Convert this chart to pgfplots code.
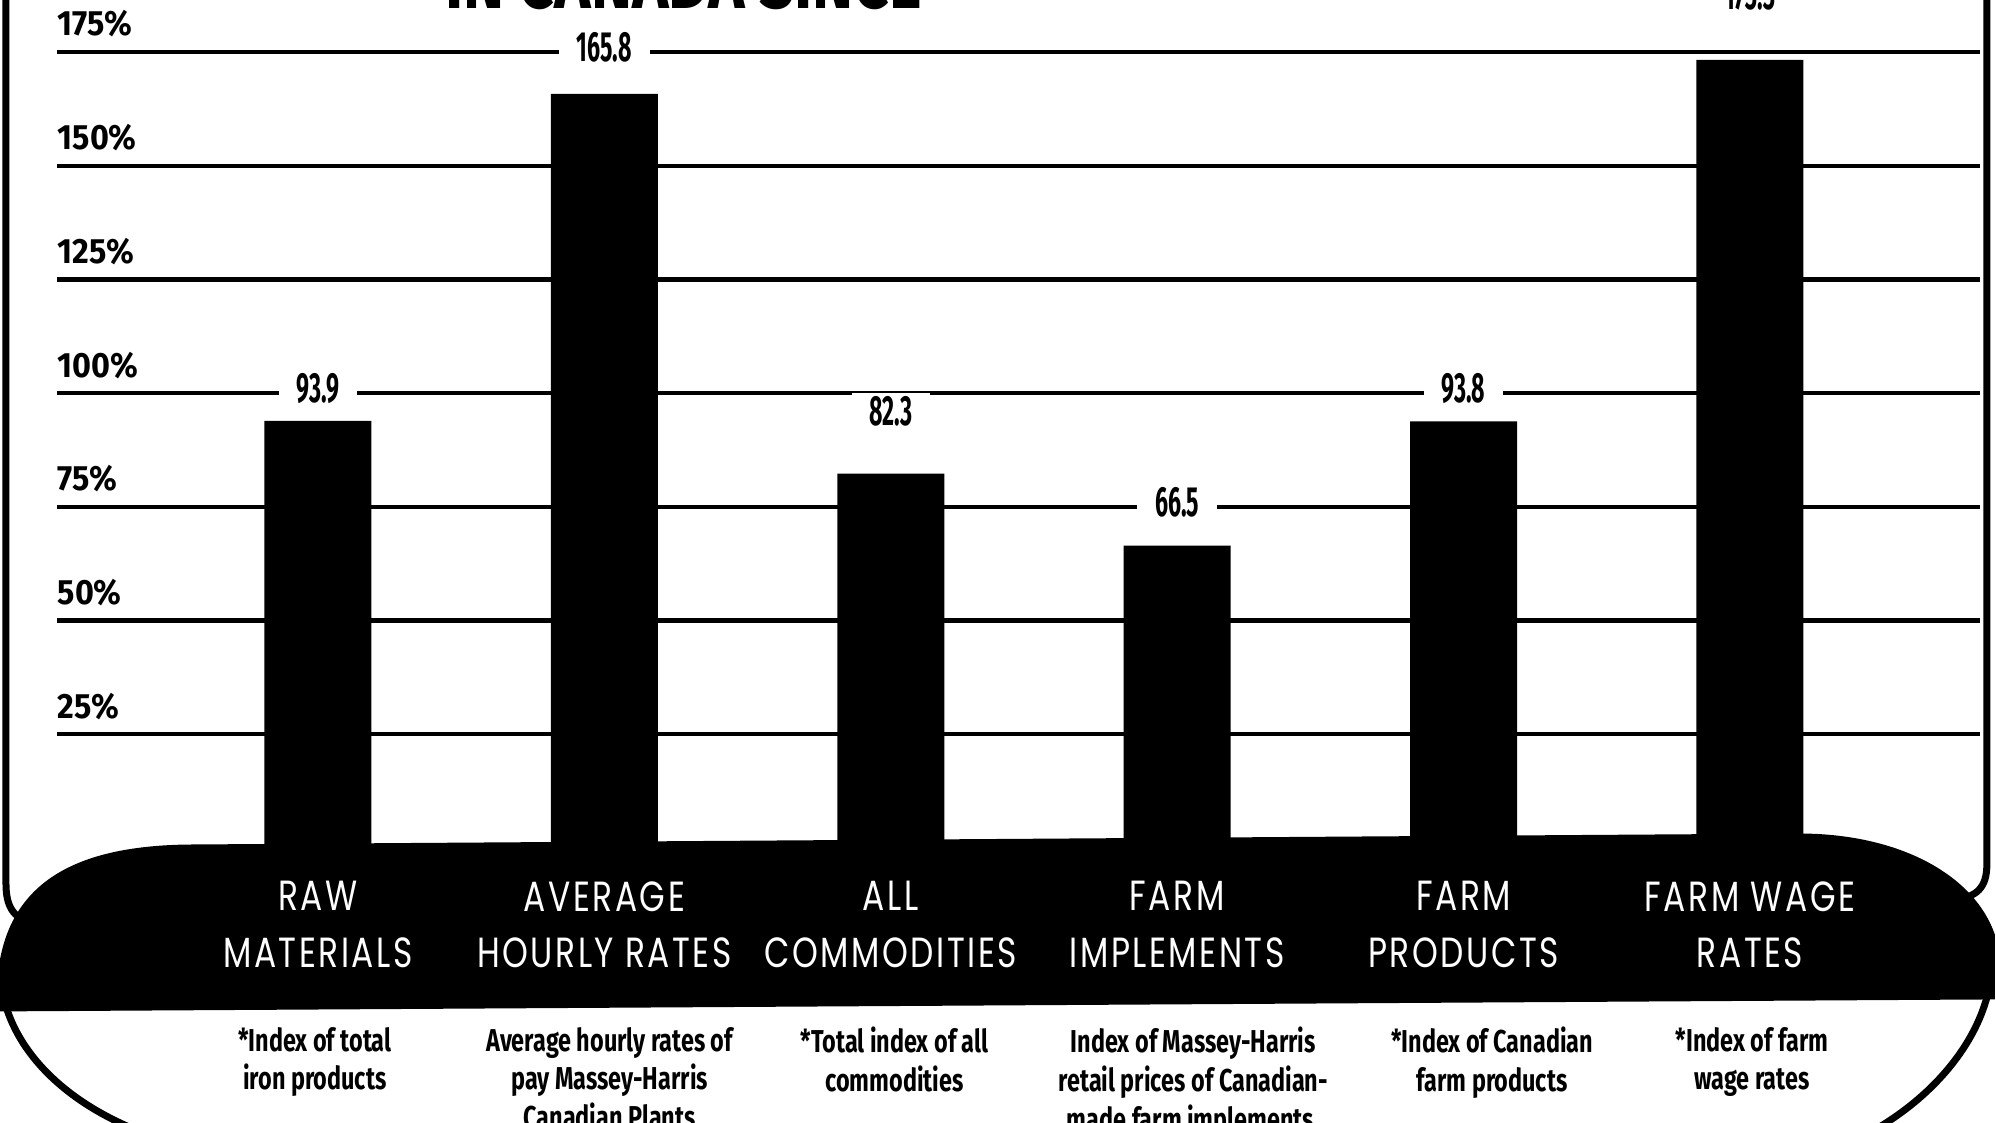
\documentclass[border=0pt]{standalone}
\usepackage{pgfplots}
\pgfplotsset{compat=1.18}
\usepackage{fontspec}
\setmainfont{Fira Sans}
\newfontfamily\valfont{Fira Sans}[FakeStretch=0.55]
\newfontfamily\tickfont{Fira Sans}[FakeStretch=0.92]
\newfontfamily\catfont{Poppins}[FakeStretch=0.78, LetterSpace=6]
\newfontfamily\notefont{Fira Sans}[FakeStretch=0.74]
\newfontfamily\titlefont{Fira Sans}[FakeStretch=0.8]

\pgfplotstableread{
x y
0 93.9
1 165.8
2 82.3
3 66.5
4 93.8
5 173.3
}\bars

\pgfplotstableread{
x y lab
0 101 93.9
1 176 165.8
2 96 82.3
3 76 66.5
4 101 93.8
5 187.5 173.3
}\labs

\begin{document}
\begin{tikzpicture}
\useasboundingbox (0,0) rectangle (19.96,11.22);
% background band and frame (pixel coordinates, y downward)
\begin{scope}[shift={(0cm,11.22cm)}, x=0.01cm, y=-0.01cm]
  \fill[black] (0,1012) -- (0,960) .. controls (15,880) and (80,846) .. (190,845)
     -- (1800,834) .. controls (1900,834) and (1975,875) .. (1996,935)
     -- (1996,1000) -- cycle;
  \draw[line width=0.07cm] (6,-5) -- (6,885) .. controls (6,912) and (18,925) .. (45,922);
  \draw[line width=0.07cm] (1988,-5) -- (1988,865) .. controls (1988,888) and (1978,898) .. (1955,900);
  \draw[line width=0.07cm] (4,1000) .. controls (18,1055) and (65,1100) .. (130,1128);
  \draw[line width=0.07cm] (1990,990) .. controls (1978,1045) and (1935,1095) .. (1880,1128);
  \node[anchor=base, font=\titlefont\bfseries\fontsize{22}{22}\selectfont] at (684,9) {IN CANADA SINCE};
\end{scope}

\begin{axis}[
  at={(0.57cm,2.74cm)}, anchor=south west,
  scale only axis, width=19.23cm, height=8.48cm,
  xmin=-0.9113, xmax=5.8031, ymin=0, ymax=186.45,
  axis line style={draw=none},
  major tick length=0pt,
  clip=false,
  ytick={25,50,75,100,125,150,175},
  yticklabels={25\%,50\%,75\%,100\%,125\%,150\%,175\%},
  yticklabel style={anchor=south west, inner sep=0pt, xshift=0pt, yshift=4pt,
     font=\tickfont\bfseries\fontsize{10}{12}\selectfont},
  ymajorgrids,
  grid style={black, line width=1.2pt},
  xtick={0,1,2,3,4,5},
  xticklabels={RAW\\MATERIALS, AVERAGE\\HOURLY RATES, ALL\\COMMODITIES, FARM\\IMPLEMENTS, FARM\\PRODUCTS, FARM WAGE\\RATES},
  xticklabel style={text=white, align=center, anchor=north, yshift=-6pt,
     font=\catfont\fontsize{12}{16}\selectfont},
]
\addplot[ybar, bar width=1.07cm, fill=black, draw=none] table[x=x, y=y] {\bars};
\addplot[draw=none, mark=none, nodes near coords, point meta=explicit symbolic,
  nodes near coords style={anchor=center, fill=white, inner xsep=5pt, inner ysep=1pt,
     font=\valfont\bfseries\fontsize{12}{12}\selectfont}]
  table[x=x, y=y, meta=lab] {\labs};
\end{axis}

\begin{scope}[shift={(0cm,11.22cm)}, x=0.01cm, y=-0.01cm]
  \begin{scope}[every node/.style={align=center, anchor=north, inner sep=2pt,
       font=\notefont\bfseries\fontsize{9}{11}\selectfont}]
  \node at (315,1020) {*Index of total\\iron products};
  \node at (610,1020) {Average hourly rates of\\pay Massey-Harris\\Canadian Plants};
  \node at (895,1020) {*Total index of all\\commodities};
  \node at (1194,1020) {Index of Massey-Harris\\retail prices of Canadian-\\made farm implements.};
  \node at (1493,1020) {*Index of Canadian\\farm products};
  \node at (1753,1020) {*Index of farm\\wage rates};
  \end{scope}
\end{scope}
\end{tikzpicture}
\end{document}
